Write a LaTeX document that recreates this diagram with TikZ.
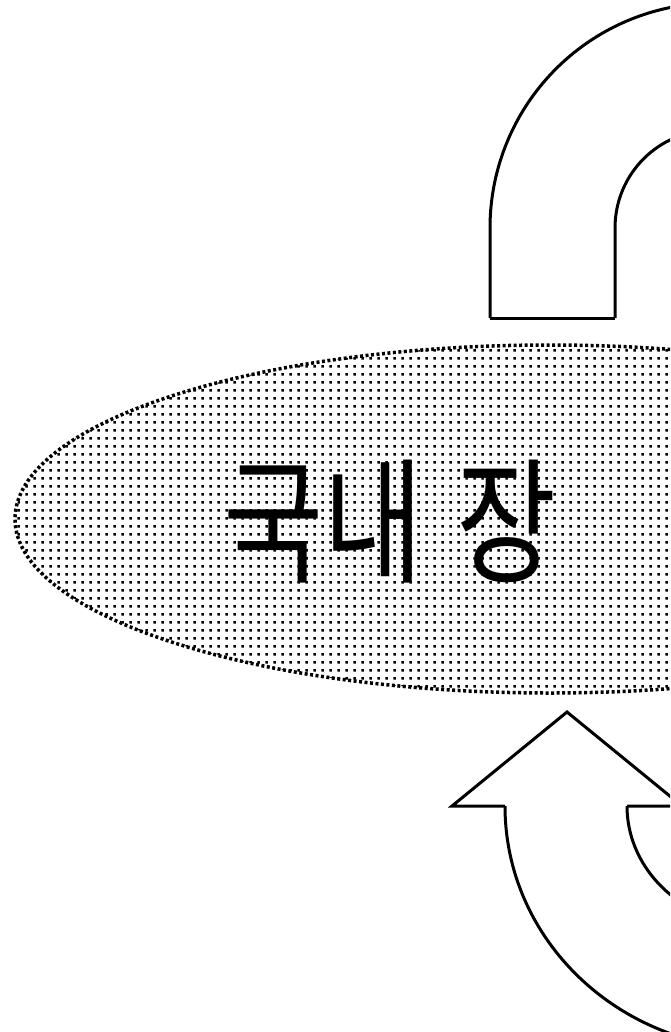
\documentclass[tikz,border=0pt]{standalone}
\usepackage{fontspec}
\newfontfamily\kr{Noto Sans CJK KR}
\usetikzlibrary{positioning}
\usetikzlibrary{shapes.geometric}
\usetikzlibrary{patterns.meta}
\tikzdeclarepattern{
  name=halftone, type=uncolored,
  bounding box={(0pt,0pt) and (7.6pt,7.6pt)},
  tile size={(7.6pt,7.6pt)},
  code={\fill (2.6pt,2.6pt) rectangle (5.2pt,5.2pt);}
}
\tikzset {
  % block arrow outlines
  outline/.style = {draw, line width=3pt, line join=miter},
  % shaded ellipse
  field/.style = {ellipse, minimum width=1070pt, minimum height=348pt, inner sep=0pt,
    pattern=halftone, draw, line width=3.5pt, dash pattern=on 3pt off 2.5pt},
  big/.style = {font=\kr\fontsize{136}{136}\selectfont, inner sep=0pt},
}
\begin{document}
\begin{tikzpicture}[x=1pt, y=-1pt]
        \useasboundingbox (0,0) rectangle (670,1032);
        \clip (0,0) rectangle (670,1032);

        % U-turn arrow on top
        \draw[outline] (490,318) -- (615,318);
        \draw[outline] (490,318) -- (490,228) arc[start angle=180, end angle=290, radius=225];
        \draw[outline] (615,318) -- (615,228) arc[start angle=180, end angle=300, radius=98];

        \node[field] (field) at (550,519) {};
        \node[big, anchor=west, xscale=0.8, transform shape] (title) at (223,522) {국내\hspace{0.31em}장};

        % curved arrow below
        \draw[outline] (627,806) arc[start angle=180, end angle=100, x radius=133, y radius=120];
        \draw[outline] (505,806) arc[start angle=180, end angle=90, x radius=255, y radius=243];
        \draw[outline] (505,806) -- (452,806) -- (567,712) -- (682,806) -- (627,806);
      \end{tikzpicture}
\end{document}
